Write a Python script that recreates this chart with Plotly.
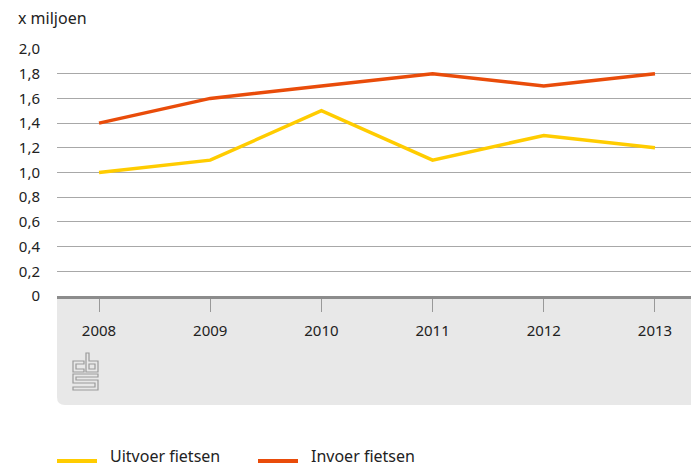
import plotly.graph_objects as go

years = ["2008", "2009", "2010", "2011", "2012", "2013"]
uitvoer = [1.0, 1.1, 1.5, 1.1, 1.3, 1.2]
invoer = [1.4, 1.6, 1.7, 1.8, 1.7, 1.8]
series_names = ["Uitvoer fietsen", "Invoer fietsen"]
series_colors = ["#FFCC00", "#E94C0A"]
y_ticks = [0, 0.2, 0.4, 0.6, 0.8, 1.0, 1.2, 1.4, 1.6, 1.8, 2.0]
y_tick_labels = ["0", "0,2", "0,4", "0,6", "0,8", "1,0", "1,2", "1,4", "1,6", "1,8", "2,0"]

W, H = 691, 467
L, R, T, B = 57, 691, 49, 296
FONT = "Noto Sans"

def px(x):
    return (x - L) / (R - L)

def py(y):
    return (B - y) / (B - T)

fig = go.Figure()
for vals, name, col in zip([uitvoer, invoer], series_names, series_colors):
    fig.add_trace(go.Scatter(x=years, y=vals, mode="lines", name=name,
                             line=dict(color=col, width=3.5), showlegend=False))

shapes = []
# gray band under axis with rounded bottom-left corner
r = 8
band = (f"M {px(L)},{py(B)} L {px(R)},{py(B)} L {px(R)},{py(405)} "
        f"L {px(L + r)},{py(405)} Q {px(L)},{py(405)} {px(L)},{py(405 - r)} Z")
shapes.append(dict(type="path", xref="paper", yref="paper", path=band,
                   fillcolor="#E8E8E8", line=dict(width=0), layer="below"))

def poly(pts, close=True):
    s = "M " + " L ".join(f"{px(a)},{py(b)}" for a, b in pts)
    return s + (" Z" if close else "")

logo_paths = [
    poly([(84, 361), (73, 361), (73, 372), (84, 372), (84, 369), (76, 369), (76, 364), (84, 364)]),
    poly([(86, 353), (89, 353), (89, 361), (98, 361), (98, 372), (86, 372)]),
    poly([(89, 364), (95, 364), (95, 369), (89, 369)]),
    poly([(98, 374), (73, 374), (73, 383), (95, 383), (95, 387), (73, 387), (73, 390),
          (98, 390), (98, 380), (76, 380), (76, 377), (98, 377)]),
]
for p in logo_paths:
    shapes.append(dict(type="path", xref="paper", yref="paper", path=p,
                       line=dict(color="#9A9A9A", width=1.2), fillcolor="rgba(0,0,0,0)"))

annotations = [dict(text="x miljoen", xref="paper", yref="paper", x=px(16), y=py(18),
                    xanchor="left", yanchor="middle", showarrow=False,
                    font=dict(size=16, color="#222222"))]

# legend (drawn manually to match the reference swatch length)
legend_x = [57, 258]
legend_y = 461
for lx, name, col in zip(legend_x, series_names, series_colors):
    shapes.append(dict(type="line", xref="paper", yref="paper",
                       x0=px(lx), x1=px(lx + 40), y0=py(legend_y), y1=py(legend_y),
                       line=dict(color=col, width=4)))
    annotations.append(dict(text=name, xref="paper", yref="paper", x=px(lx + 52), y=py(456),
                            xanchor="left", yanchor="middle", showarrow=False, borderpad=0,
                            font=dict(size=16, color="#222222")))

fig.update_layout(
    width=W, height=H,
    margin=dict(l=L, r=W - R, t=T, b=H - B, pad=0),
    plot_bgcolor="white", paper_bgcolor="white",
    font=dict(family=FONT, size=15, color="#222222"),
    showlegend=False,
    shapes=shapes,
    annotations=annotations,
)
fig.update_xaxes(range=[-0.378, 5.324], showgrid=False, showline=True, linecolor="#8C8C8C",
                 linewidth=3, ticks="outside", ticklen=13, tickcolor="#999999", tickwidth=1,
                 ticklabelstandoff=6, zeroline=False, fixedrange=True)
fig.update_yaxes(range=[0, 2], tickvals=y_ticks, ticktext=y_tick_labels, showgrid=True,
                 gridcolor="#A8A8A8", gridwidth=1, zeroline=False, showline=False,
                 ticks="", ticklabelstandoff=16, fixedrange=True)

fig.write_html("out.html", config={"displayModeBar": False},
               post_script="document.body.style.margin='0';document.body.style.overflow='hidden';")
